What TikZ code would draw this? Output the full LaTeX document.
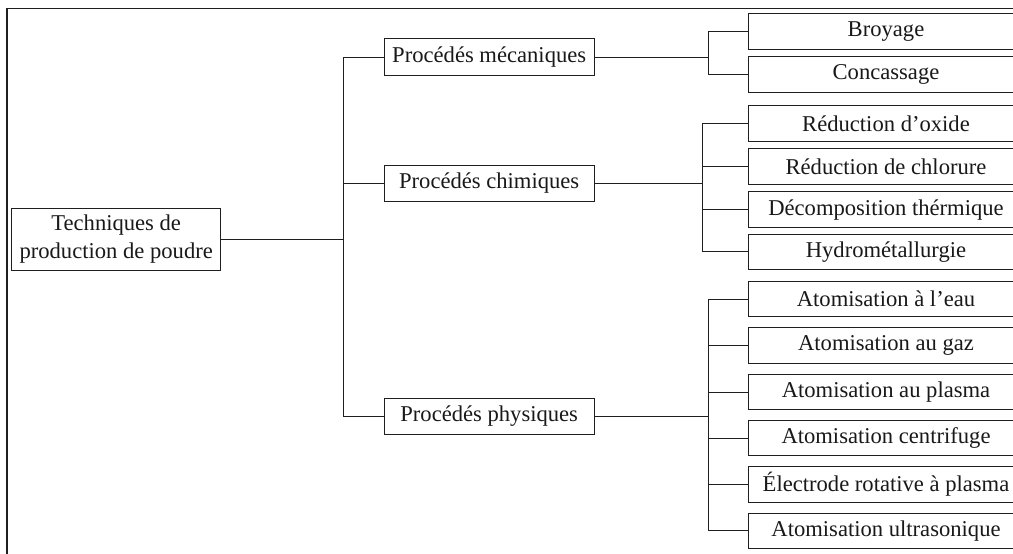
\documentclass[tikz,border=0pt]{standalone}
\usepackage{fontspec}
\setmainfont{Liberation Serif}
\begin{document}
\begin{tikzpicture}[x=1pt,y=-1pt,
  line/.style={draw=black!88, line width=1pt},
  box/.style={draw=black!88, line width=1pt, fill=white, inner sep=0pt, align=center,
    font=\fontsize{22.6}{28}\selectfont, text=black!90},
  leafbox/.style={box, minimum width=276pt, minimum height=35.5pt},
  midbox/.style={box, minimum width=209.7pt, minimum height=36.5pt},
  rootbox/.style={box, minimum width=209pt, minimum height=62.4pt}]
\useasboundingbox (0,0) rectangle (1013,554);
\clip (0,0) rectangle (1013,554);
% frame
\draw[draw=black!88, line width=1.8pt] (7,554) -- (7,8.5) -- (1020,8.5);
% root and middle level
\node[rootbox] (root) at (116.2,239.5) {Techniques de\\production de poudre};
\node[midbox] (mec) at (489.2,57) {Procédés mécaniques};
\node[midbox] (chi) at (489.2,183.3) {Procédés chimiques};
\node[midbox] (phy) at (489.2,416.5) {Procédés physiques};
% leaves
\node[leafbox] (l1) at (886,31.3) {Broyage};
\node[leafbox] (l2) at (886,74.5) {Concassage};
\node[leafbox] (l3) at (886,123.3) {Réduction d’oxide};
\node[leafbox] (l4) at (886,166.7) {Réduction de chlorure};
\node[leafbox] (l5) at (886,209.7) {Décomposition thérmique};
\node[leafbox] (l6) at (886,251.8) {Hydrométallurgie};
\node[leafbox] (l7) at (886,299.2) {Atomisation à l’eau};
\node[leafbox] (l8) at (886,345.7) {Atomisation au gaz};
\node[leafbox] (l9) at (886,392) {Atomisation au plasma};
\node[leafbox] (l10) at (886,438) {Atomisation centrifuge};
\node[leafbox] (l11) at (886,484.7) {Électrode rotative à plasma};
\node[leafbox] (l12) at (886,530.8) {Atomisation ultrasonique};
% junction columns
\coordinate (j1) at (343.3,0);
\coordinate (j2) at (708.3,0);
\coordinate (j3) at (702.7,0);
\coordinate (j4) at (708.3,0);
% root to middle
\draw[line] (root.east) -- (root.east -| j1);
\draw[line] (mec.west) -- (mec.west -| j1) -- (phy.west -| j1) -- (phy.west);
\draw[line] (chi.west) -- (chi.west -| j1);
% mechanical
\draw[line] (mec.east) -- (mec.east -| j2);
\draw[line] (l1.west) -- (l1.west -| j2) -- (l2.west -| j2) -- (l2.west);
% chemical
\draw[line] (chi.east) -- (chi.east -| j3);
\draw[line] (l3.west) -- (l3.west -| j3) -- (l6.west -| j3) -- (l6.west);
\draw[line] (l4.west) -- (l4.west -| j3);
\draw[line] (l5.west) -- (l5.west -| j3);
% physical
\draw[line] (phy.east) -- (phy.east -| j4);
\draw[line] (l7.west) -- (l7.west -| j4) -- (l12.west -| j4) -- (l12.west);
\draw[line] (l8.west) -- (l8.west -| j4);
\draw[line] (l9.west) -- (l9.west -| j4);
\draw[line] (l10.west) -- (l10.west -| j4);
\draw[line] (l11.west) -- (l11.west -| j4);
\end{tikzpicture}
\end{document}
